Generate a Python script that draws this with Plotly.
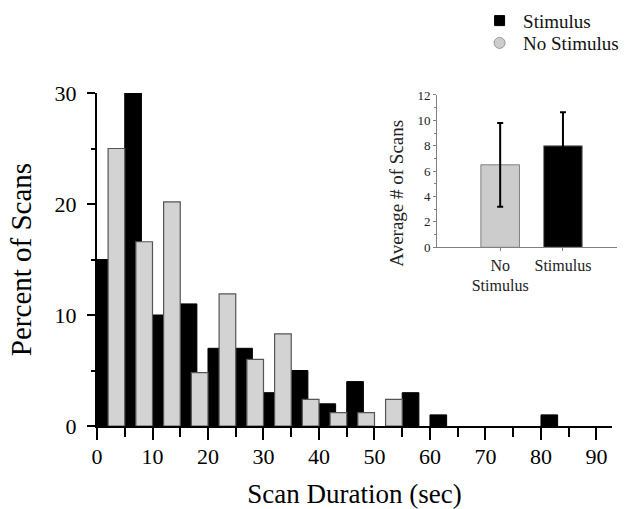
import plotly.graph_objects as go

# ---- data ----
bin_starts = [0, 5, 10, 15, 20, 25, 30, 35, 40, 45, 50, 55, 60, 65, 70, 75, 80, 85]
stimulus_pct = [15, 30, 10, 11, 7, 7, 3, 5, 2, 4, 0, 3, 1, 0, 0, 0, 1, 0]
no_stimulus_pct = [25, 16.6, 20.2, 4.8, 11.9, 6.0, 8.3, 2.4, 1.2, 1.2, 2.4, 0, 0, 0, 0, 0, 0, 0]

inset_groups = ["No<br>Stimulus", "Stimulus"]
inset_means = [6.5, 8.0]
inset_err = [3.3, 2.65]
inset_colors = ["#cccccc", "#000000"]

x_ticks = [0, 10, 20, 30, 40, 50, 60, 70, 80, 90]
y_ticks = [0, 10, 20, 30]

FONT = "Liberation Serif"


def nonzero(vals):
    return [v if v > 0 else None for v in vals]


fig = go.Figure()

# main histogram: black (stimulus) bars behind, grey (no stimulus) in front
fig.add_trace(go.Bar(
    x=[b + 1.5 for b in bin_starts], y=nonzero(stimulus_pct), width=3,
    marker=dict(color="#000000", line=dict(color="#000000", width=1)),
    showlegend=False, xaxis="x", yaxis="y"))
fig.add_trace(go.Bar(
    x=[b + 3.5 for b in bin_starts], y=nonzero(no_stimulus_pct), width=3,
    marker=dict(color="#d3d3d3", line=dict(color="#555555", width=1.2)),
    showlegend=False, xaxis="x", yaxis="y"))

# inset bars
fig.add_trace(go.Bar(
    x=[0, 1], y=inset_means, width=0.615,
    marker=dict(color=inset_colors, line=dict(color="#808080", width=1)),
    error_y=dict(type="data", array=inset_err, visible=True,
                 color="#000000", thickness=2, width=3),
    showlegend=False, xaxis="x2", yaxis="y2"))

# legend entries (two independent legends for exact placement)
fig.add_trace(go.Scatter(
    x=[None], y=[None], mode="markers", name="Stimulus", legend="legend",
    marker=dict(symbol="square", size=10, color="#000000",
                line=dict(color="#000000", width=1))))
fig.add_trace(go.Scatter(
    x=[None], y=[None], mode="markers", name="No Stimulus", legend="legend2",
    marker=dict(symbol="circle", size=11, color="#cccccc",
                line=dict(color="#999999", width=1))))

legend_style = dict(xanchor="left", yanchor="top",
                    font=dict(family=FONT, size=19, color="#111111"),
                    bgcolor="rgba(0,0,0,0)", itemwidth=37)

fig.update_layout(
    width=636, height=509,
    margin=dict(l=97, r=19, t=93, b=83, autoexpand=False),
    paper_bgcolor="white", plot_bgcolor="white",
    barmode="overlay",
    font=dict(family=FONT, color="#000000"),
    showlegend=True,
    legend=dict(x=0.729, y=1.274, **legend_style),
    legend2=dict(x=0.729, y=1.207, **legend_style),
    xaxis=dict(
        domain=[0, 0.9904], range=[0, 92.8],
        tickvals=x_ticks, ticktext=[str(v) for v in x_ticks],
        ticks="outside", ticklen=12, tickwidth=2, tickcolor="#000000",
        minor=dict(dtick=5, tick0=0, ticks="outside", ticklen=9,
                   tickwidth=2, tickcolor="#000000"),
        showline=True, linewidth=2, linecolor="#000000",
        showgrid=False, zeroline=False,
        tickfont=dict(family=FONT, size=22, color="#000000"),
        ticklabelstandoff=-2,
        title=dict(text="Scan Duration (sec)", standoff=20,
                   font=dict(family=FONT, size=27, color="#000000"))),
    yaxis=dict(
        domain=[0, 1], range=[0, 30],
        tickvals=y_ticks, ticktext=[str(v) for v in y_ticks],
        ticks="outside", ticklen=8, tickwidth=2, tickcolor="#000000",
        minor=dict(dtick=5, tick0=0, ticks="outside", ticklen=4,
                   tickwidth=2, tickcolor="#000000"),
        showline=True, linewidth=2, linecolor="#000000",
        showgrid=False, zeroline=False,
        tickfont=dict(family=FONT, size=22, color="#000000"),
        ticklabelstandoff=6,
        title=dict(text="Percent of Scans", standoff=14,
                   font=dict(family=FONT, size=29, color="#000000"))),
    xaxis2=dict(
        domain=[0.654, 1], range=[-1.005, 1.861], anchor="y2",
        tickvals=[0, 1], ticktext=inset_groups,
        ticks="outside", ticklen=3, tickwidth=1, tickcolor="#808080",
        showline=True, linewidth=1, linecolor="#808080",
        showgrid=False, zeroline=False,
        tickfont=dict(family=FONT, size=16, color="#222222")),
    yaxis2=dict(
        domain=[0.5366, 0.994], range=[0, 12], anchor="x2",
        tickvals=[0, 2, 4, 6, 8, 10, 12],
        ticks="outside", ticklen=3, tickwidth=1, tickcolor="#808080",
        minor=dict(dtick=1, tick0=0, ticks="outside", ticklen=2,
                   tickwidth=1, tickcolor="#808080"),
        showline=True, linewidth=1, linecolor="#808080",
        showgrid=False, zeroline=False,
        tickfont=dict(family=FONT, size=13, color="#222222")),
    annotations=[dict(
        text="Average # of Scans", textangle=-90,
        xref="paper", yref="paper", x=0.5763, y=0.6997,
        xanchor="center", yanchor="middle", showarrow=False,
        font=dict(family=FONT, size=19, color="#222222"))],
)

fig.write_html("out.html",
               config={"displayModeBar": False},
               post_script="document.body.style.margin='0';document.body.style.overflow='hidden';")
